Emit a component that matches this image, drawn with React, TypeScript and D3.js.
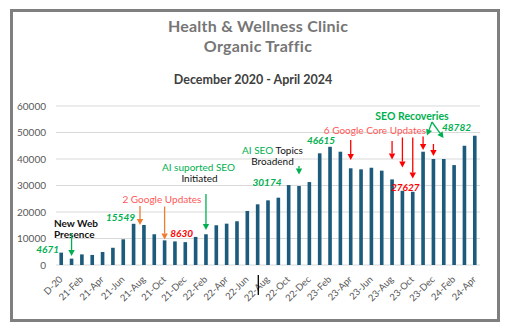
import React from "react";
import * as d3 from "d3";

const months: string[] = [
  "Dec-20","Jan-21","Feb-21","Mar-21","Apr-21","May-21","Jun-21","Jul-21","Aug-21","Sep-21","Oct-21","Nov-21",
  "Dec-21","Jan-22","Feb-22","Mar-22","Apr-22","May-22","Jun-22","Jul-22","Aug-22","Sep-22","Oct-22","Nov-22",
  "Dec-22","Jan-23","Feb-23","Mar-23","Apr-23","May-23","Jun-23","Jul-23","Aug-23","Sep-23","Oct-23","Nov-23",
  "Dec-23","Jan-24","Feb-24","Mar-24","Apr-24"
];
const traffic: number[] = [
  4671, 2400, 4000, 3800, 4900, 6500, 9700, 15549, 15100, 11600, 9300, 8900,
  8630, 10600, 11600, 15000, 15600, 16500, 20400, 22900, 24400, 25400, 30174, 29800,
  31300, 42150, 44600, 42750, 36500, 36100, 36700, 35600, 32300, 28000, 27627, 42750,
  40000, 40000, 37700, 45000, 48782
];
const tickLabels: string[] = [
  "D-20","21-Feb","21-Apr","21-Jun","21-Aug","21-Oct","21-Dec","22-Feb","22-Apr","22-Jun","22-Aug",
  "22-Oct","22-Dec","23-Feb","23-Apr","23-Jun","23-Aug","23-Oct","23-Dec","24-Feb","24-Apr"
];
const yTicks: number[] = [0, 10000, 20000, 30000, 40000, 50000, 60000];

const GREEN = "#00b050";
const RED = "#ff0000";
const SALMON = "#ff5757";
const ORANGE = "#ed7d31";
const BAR = "#1d5b7c";
const FONT = "Lato, 'Open Sans', sans-serif";

function Arrow({ x, y1, y2, color, x2 }: { x: number; y1: number; y2: number; color: string; x2?: number }) {
  const xe = x2 === undefined ? x : x2;
  const ang = Math.atan2(y2 - y1, xe - x);
  const hl = 6, hw = 3.2;
  const bx = xe - hl * Math.cos(ang), by = y2 - hl * Math.sin(ang);
  const px = -Math.sin(ang) * hw, py = Math.cos(ang) * hw;
  return (
    <g>
      <line x1={x} y1={y1} x2={bx} y2={by} stroke={color} strokeWidth={1.3} />
      <polygon points={`${xe},${y2} ${bx + px},${by + py} ${bx - px},${by - py}`} fill={color} />
    </g>
  );
}

export default function App() {
  const W = 511, H = 335;
  const x = d3.scaleBand<number>().domain(d3.range(months.length)).range([56, 480]).paddingInner(0.65).paddingOuter(0.33);
  const y = d3.scaleLinear().domain([0, 60000]).range([265, 106]);
  const cx = (i: number) => (x(i) as number) + x.bandwidth() / 2;

  return (
    <svg width={W} height={H} style={{ position: "absolute", left: 0, top: 0, background: "#fff" }} fontFamily={FONT}>
      <rect x={0} y={0} width={W} height={H} fill="#fff" />
      <rect x={11.5} y={10.5} width={487} height={310} fill="none" stroke="#7f7f7f" strokeWidth={3} />

      <text x={258} y={32} textAnchor="middle" fontSize={16} letterSpacing={0.25} fontWeight={700} fill="#767676">Health &amp; Wellness Clinic</text>
      <text x={258} y={51.5} textAnchor="middle" fontSize={16} letterSpacing={0.25} fontWeight={700} fill="#767676">Organic Traffic</text>
      <text x={253} y={84} textAnchor="middle" fontSize={12.5} fontWeight={700} fill="#404040">December 2020 - April 2024</text>

      {yTicks.map((t) => (
        <g key={t}>
          <line x1={56} x2={480} y1={y(t)} y2={y(t)} stroke="#d9d9d9" strokeWidth={1} />
          <text x={46} y={y(t)} dy="0.35em" textAnchor="end" fontSize={10} fill="#595959">{t}</text>
        </g>
      ))}

      {traffic.map((v, i) => (
        <rect key={i} x={x(i)} y={y(v)} width={x.bandwidth()} height={y(0) - y(v)} fill={BAR} />
      ))}

      {tickLabels.map((l, k) => {
        const i = k * 2;
        const ax = cx(i) + 2, ay = 280;
        return (
          <text key={l} x={ax} y={ay} transform={`rotate(-45 ${ax} ${ay})`} textAnchor="end" fontSize={9.5} fill="#595959">{l}</text>
        );
      })}

      {/* annotations */}
      <text x={54} y={227} fontSize={10} fontWeight={700} fill="#111">New Web</text>
      <text x={54} y={238} fontSize={10} fontWeight={700} fill="#111">Presence</text>
      <Arrow x={cx(1)} y1={233} y2={256} color={GREEN} />
      <text x={59} y={252.5} textAnchor="end" fontSize={10} fontWeight={700} fontStyle="italic" fill={GREEN}>{traffic[0]}</text>

      <text x={135} y={221} textAnchor="end" fontSize={10} fontWeight={700} fontStyle="italic" fill={GREEN}>{traffic[7]}</text>
      <text x={122.5} y={203} fontSize={10} fill={SALMON}>2 Google Updates</text>
      <Arrow x={140} y1={206} y2={225} color={ORANGE} />
      <Arrow x={cx(10)} y1={206.5} y2={239.5} color={ORANGE} />
      <text x={193} y={236.5} textAnchor="end" fontSize={10} fontWeight={700} fontStyle="italic" fill={RED}>{traffic[12]}</text>

      <text x={198.5} y={171} textAnchor="middle" fontSize={10} fill={GREEN}>AI suported SEO</text>
      <text x={199.5} y={182} textAnchor="middle" fontSize={10} fill="#111">Initiated</text>
      <Arrow x={cx(14)} y1={194} y2={230} color={GREEN} />

      <text x={272.5} y={154} textAnchor="middle" fontSize={10}>
        <tspan fill={GREEN}>AI SEO</tspan><tspan fill="#111"> Topics</tspan>
      </text>
      <text x={272.5} y={165} textAnchor="middle" fontSize={10} fill="#111">Broadend</text>
      <Arrow x={cx(23)} y1={166} y2={174.5} color={GREEN} />
      <text x={281.5} y={186} textAnchor="end" fontSize={10} fontWeight={700} fontStyle="italic" fill={GREEN}>{traffic[22]}</text>

      <text x={335} y={144} textAnchor="end" fontSize={10} fontWeight={700} fontStyle="italic" fill={GREEN}>46615</text>
      <text x={375} y={134} textAnchor="middle" fontSize={10} fill={SALMON}>6 Google Core Updates</text>
      <Arrow x={cx(28)} y1={140} y2={160} color={RED} />
      <Arrow x={cx(32)} y1={141} y2={159.5} color={RED} />
      <Arrow x={cx(33)} y1={137.5} y2={167.5} color={RED} />
      <Arrow x={cx(34)} y1={137.5} y2={178.5} color={RED} />
      <Arrow x={cx(35)} y1={136.5} y2={150} color={RED} />
      <Arrow x={cx(36)} y1={144} y2={156} color={RED} />
      <text x={419.5} y={190.5} textAnchor="end" fontSize={10} fontWeight={700} fontStyle="italic" fill={RED}>{traffic[34]}</text>

      <text x={412} y={119.5} textAnchor="middle" fontSize={10.5} fontWeight={700} fill={GREEN}>SEO Recoveries</text>
      <Arrow x={432} y1={122} x2={427} y2={135.5} color={GREEN} />
      <Arrow x={432} y1={122} x2={443.5} y2={138} color={GREEN} />
      <text x={471} y={131} textAnchor="end" fontSize={10} fontWeight={700} fontStyle="italic" fill={GREEN}>{traffic[40]}</text>

      <line x1={258.3} x2={258.3} y1={275} y2={295} stroke="#000" strokeWidth={1.3} />
    </svg>
  );
}
